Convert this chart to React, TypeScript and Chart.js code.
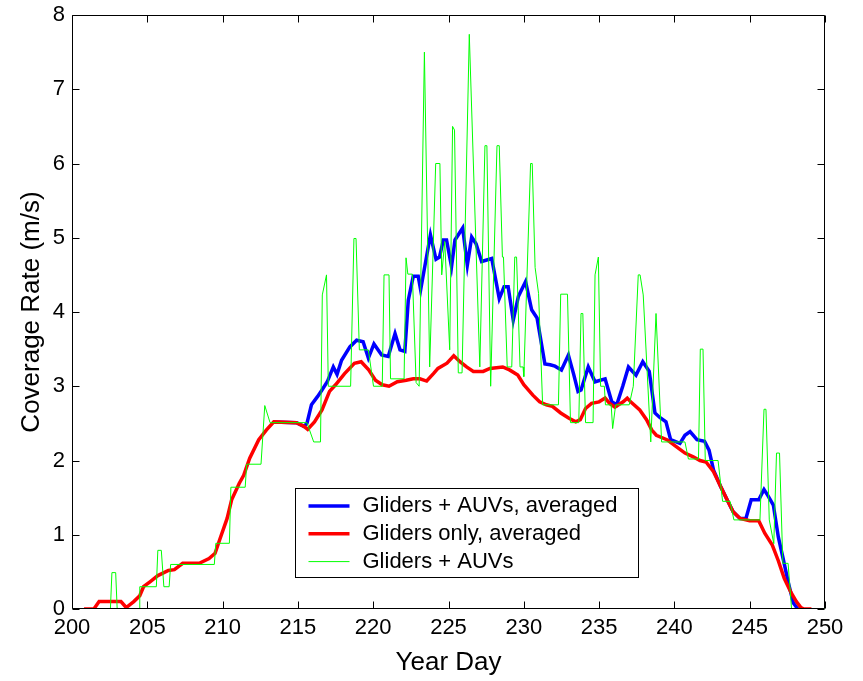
import React, { useEffect, useRef } from "react";
import { Chart, registerables } from "chart.js";

Chart.register(...registerables);

// ---------- data ----------
const seriesLabels = ["Gliders + AUVs, averaged", "Gliders only, averaged", "Gliders + AUVs"];

const xTickValues = [200, 205, 210, 215, 220, 225, 230, 235, 240, 245, 250];
const yTickValues = [0, 1, 2, 3, 4, 5, 6, 7, 8];

// Gliders + AUVs, averaged (blue)
const blueDays = [
  213.4, 214.9, 215.4, 215.6, 215.9, 216.3, 216.6, 216.95, 217.35, 217.6, 217.9, 218.45, 218.9, 219.33,
  219.68, 220.05, 220.56, 221.0, 221.45, 221.78, 222.1, 222.33, 222.66, 222.99, 223.15, 223.44, 223.8,
  224.17, 224.4, 224.66, 224.87, 225.2, 225.43, 225.94, 226.25, 226.54, 226.83, 227.2, 227.87, 228.37,
  228.69, 228.96, 229.3, 229.64, 230.12, 230.52, 230.88, 231.4, 231.75, 232.07, 232.5, 232.96, 233.3,
  233.6, 233.8, 234.28, 234.73, 235.4, 235.84, 236.17, 236.57, 236.95, 237.45, 237.9, 238.33, 238.71,
  239.03, 239.44, 239.75, 240.37, 240.7, 241.04, 241.5, 242.0, 242.3, 242.6, 243.07, 243.5, 243.9,
  244.36, 244.75, 245.1, 245.6, 245.95, 246.2, 246.57, 246.9, 247.24, 247.57, 247.9, 248.2,
];
const blueValues = [
  2.52, 2.51, 2.46, 2.5, 2.75, 2.86, 2.95, 3.06, 3.26, 3.16, 3.35, 3.53, 3.62, 3.6,
  3.38, 3.57, 3.42, 3.4, 3.71, 3.49, 3.47, 4.16, 4.48, 4.48, 4.3, 4.63, 5.04,
  4.71, 4.74, 4.97, 4.97, 4.61, 4.97, 5.13, 4.63, 5.01, 4.92, 4.68, 4.72, 4.18,
  4.34, 4.34, 3.89, 4.21, 4.41, 4.03, 3.92, 3.3, 3.29, 3.27, 3.22, 3.42, 3.17,
  2.93, 2.95, 3.26, 3.06, 3.1, 2.79, 2.75, 3.0, 3.26, 3.15, 3.33, 3.2, 2.64,
  2.58, 2.52, 2.28, 2.23, 2.34, 2.39, 2.28, 2.26, 2.14, 1.87, 1.65, 1.47, 1.31,
  1.22, 1.22, 1.47, 1.47, 1.61, 1.53, 1.4, 0.97, 0.66, 0.35, 0.08, 0,
];

// Gliders only, averaged (red)
const redDays = [
  200.8, 201.45, 201.8, 203.25, 203.6, 204.1, 204.5, 204.75, 205.2, 205.7, 206.4, 206.8, 207.35, 208.45,
  209.1, 209.5, 209.8, 210.3, 210.6, 211.1, 211.4, 211.8, 212.4, 212.9, 213.4, 214.9, 215.4, 215.65,
  216.1, 216.6, 217.1, 217.5, 218.1, 218.75, 219.2, 219.7, 220.15, 220.6, 221.05, 221.6, 222.2, 222.66,
  223.1, 223.55, 224.0, 224.3, 224.9, 225.35, 225.76, 226.2, 226.65, 227.3, 227.75, 228.6, 229.05,
  229.6, 230.0, 230.6, 231.05, 231.5, 231.9, 232.45, 233.0, 233.45, 233.75, 234.1, 234.5, 235.0, 235.4,
  235.7, 236.05, 236.6, 236.87, 237.15, 237.7, 238.15, 238.5, 238.8, 239.5, 240.1, 240.7, 241.25,
  241.7, 242.1, 242.6, 243.07, 243.5, 243.9, 244.36, 245.0, 245.6, 246.0, 246.5, 246.9, 247.3, 247.75,
  248.1, 248.4, 248.6, 249.1,
];
const redValues = [
  0, 0, 0.1, 0.1, 0.02, 0.1, 0.18, 0.3, 0.37, 0.45, 0.52, 0.53, 0.615, 0.615,
  0.68, 0.75, 0.93, 1.22, 1.47, 1.69, 1.8, 2.03, 2.28, 2.41, 2.52, 2.51, 2.46, 2.42,
  2.52, 2.68, 2.93, 3.02, 3.17, 3.31, 3.33, 3.22, 3.08, 3.02, 3.0, 3.06, 3.08, 3.1,
  3.1, 3.07, 3.17, 3.24, 3.31, 3.41, 3.33, 3.26, 3.2, 3.2, 3.24, 3.26, 3.22,
  3.15, 3.02, 2.88, 2.79, 2.75, 2.73, 2.64, 2.57, 2.52, 2.55, 2.7, 2.77, 2.79, 2.84,
  2.77, 2.72, 2.79, 2.84, 2.78, 2.68, 2.55, 2.41, 2.34, 2.28, 2.19, 2.1, 2.05,
  2.0, 1.98, 1.85, 1.65, 1.47, 1.31, 1.22, 1.19, 1.19, 1.02, 0.86, 0.65, 0.41, 0.22,
  0.1, 0.02, 0, 0,
];

// Gliders + AUVs (green)
const greenDays = [
  200.0, 202.55, 202.65, 202.9, 203.0, 204.45, 204.5, 205.6, 205.7, 205.93, 206.1, 206.45, 206.55,
  209.45, 209.55, 210.45, 210.55, 211.5, 211.6, 212.55, 212.8, 213.15, 215.6, 216.05, 216.5, 216.62,
  216.9, 217.02, 218.5, 218.72, 218.86, 219.08, 219.68, 220.02, 220.6, 220.72, 221.05, 221.15, 222.05,
  222.18, 222.3, 222.6, 222.85, 223.05, 223.4, 223.75, 224.15, 224.43, 224.55, 224.75, 225.08, 225.27,
  225.4, 225.65, 225.9, 226.38, 227.08, 227.42, 227.55, 227.8, 228.22, 228.37, 228.58, 228.65, 228.9,
  229.2, 229.4, 229.52, 229.75, 229.95, 230.0, 230.45, 230.56, 230.75, 230.98, 231.25, 232.3, 232.45,
  232.9, 233.1, 233.65, 233.8, 233.92, 234.1, 234.6, 234.73, 234.95, 235.1, 235.35, 235.42, 235.8,
  235.9, 236.1, 237.0, 237.27, 237.6, 237.72, 237.93, 238.43, 238.78, 239.15, 240.7, 240.93, 241.6,
  241.72, 241.9, 242.05, 242.9, 243.2, 243.7, 243.95, 245.68, 245.95, 246.08, 246.3, 246.6, 246.78,
  246.98, 247.2, 247.55, 247.78, 250.0,
];
const greenValues = [
  0, 0, 0.49, 0.49, 0, 0, 0.3, 0.3, 0.79, 0.79, 0.3, 0.3, 0.6,
  0.6, 0.885, 0.885, 1.64, 1.64, 1.95, 1.95, 2.74, 2.51, 2.51, 2.25, 2.25, 4.23,
  4.5, 3.0, 3.0, 4.99, 4.99, 3.49, 3.49, 3.0, 3.0, 4.5, 4.5, 3.1, 3.1,
  4.73, 4.51, 4.51, 3.05, 3.0, 7.5, 3.26, 6.0, 6.0, 4.5, 4.95, 3.49, 6.5,
  6.45, 3.18, 3.18, 7.74, 3.26, 6.24, 6.24, 3.0, 6.24, 6.24, 4.74, 4.74, 3.26,
  3.26, 4.74, 4.74, 3.26, 3.26, 3.13, 6.0, 6.0, 4.6, 4.25, 2.75, 2.75, 4.24,
  4.24, 2.51, 2.51, 3.98, 3.98, 2.51, 2.51, 4.5, 4.74, 3.0, 3.0, 2.75, 2.75,
  2.43, 2.75, 2.75, 3.0, 4.5, 4.5, 4.23, 2.25, 3.98, 2.25, 2.25, 2.02, 2.02,
  3.5, 3.5, 2.0, 2.0, 1.45, 1.45, 1.2, 1.2, 2.69, 2.69, 1.2, 0.88, 2.1,
  2.1, 0.615, 0.615, 0, 0,
];

const seriesColors = ["#0000ff", "#ff0000", "#00ff00"];
const FONT = "'Liberation Sans', Arial, Helvetica, sans-serif";

const toPoints = (xs: number[], ys: number[]) => xs.map((x, i) => ({ x, y: ys[i] }));

// MATLAB-style frame: box, inward ticks on all sides, boxed legend inside axes
const matlabFrame = {
  id: "matlabFrame",
  afterDatasetsDraw(chart: any) {
    const { ctx, chartArea: a, scales } = chart;
    const L = Math.round(a.left) + 0.5;
    const R = Math.round(a.right) - 0.5;
    const T = Math.round(a.top) + 0.5;
    const B = Math.round(a.bottom) - 0.5;
    ctx.save();
    ctx.strokeStyle = "#000";
    ctx.lineWidth = 1;
    ctx.beginPath();
    ctx.rect(L, T, R - L, B - T);
    ctx.stroke();
    const tl = 7;
    ctx.beginPath();
    scales.x.ticks.forEach((t: any) => {
      const px = Math.round(scales.x.getPixelForValue(t.value)) + 0.5;
      ctx.moveTo(px, B);
      ctx.lineTo(px, B - tl);
      ctx.moveTo(px, T);
      ctx.lineTo(px, T + tl);
    });
    scales.y.ticks.forEach((t: any) => {
      const py = Math.round(scales.y.getPixelForValue(t.value)) + 0.5;
      ctx.moveTo(L, py);
      ctx.lineTo(L + tl, py);
      ctx.moveTo(R, py);
      ctx.lineTo(R - tl, py);
    });
    ctx.stroke();

    // legend box
    const bx = Math.round(a.left + 223) + 0.5;
    const by = Math.round(a.top + 473) + 0.5;
    const bw = 343;
    const bh = 89;
    ctx.fillStyle = "#fff";
    ctx.fillRect(bx, by, bw, bh);
    ctx.strokeStyle = "#000";
    ctx.lineWidth = 1;
    ctx.strokeRect(bx, by, bw, bh);
    ctx.font = `22px ${FONT}`;
    ctx.textBaseline = "alphabetic";
    ctx.textAlign = "left";
    chart.data.datasets.forEach((ds: any, i: number) => {
      const ly = by + 17.5 + i * 27.8;
      ctx.strokeStyle = ds.borderColor;
      ctx.lineWidth = ds.borderWidth;
      ctx.beginPath();
      ctx.moveTo(bx + 13, ly);
      ctx.lineTo(bx + 54, ly);
      ctx.stroke();
      ctx.fillStyle = "#000";
      ctx.fillText(ds.label, bx + 67, ly + 6);
    });
    ctx.restore();
  },
};

export default function App() {
  const canvasRef = useRef<HTMLCanvasElement | null>(null);

  useEffect(() => {
    if (!canvasRef.current) return;
    const chart = new Chart(canvasRef.current, {
      type: "line",
      data: {
        datasets: [
          {
            label: seriesLabels[0],
            data: toPoints(blueDays, blueValues),
            borderColor: seriesColors[0],
            borderWidth: 3.5,
            pointRadius: 0,
            tension: 0,
            order: 3,
          },
          {
            label: seriesLabels[1],
            data: toPoints(redDays, redValues),
            borderColor: seriesColors[1],
            borderWidth: 3.5,
            pointRadius: 0,
            tension: 0,
            order: 2,
          },
          {
            label: seriesLabels[2],
            data: toPoints(greenDays, greenValues),
            borderColor: seriesColors[2],
            borderWidth: 1,
            pointRadius: 0,
            tension: 0,
            order: 1,
          },
        ],
      },
      options: {
        responsive: false,
        animation: false,
        devicePixelRatio: 1,
        layout: { padding: { left: 0, right: 38, top: 15, bottom: 0 } },
        plugins: {
          legend: { display: false },
          tooltip: { enabled: false },
        },
        scales: {
          x: {
            type: "linear",
            min: 200,
            max: 250,
            afterBuildTicks: (s: any) => {
              s.ticks = xTickValues.map((v) => ({ value: v }));
            },
            afterFit: (s: any) => {
              s.height = 72;
              s.paddingLeft = 0;
              s.paddingRight = 0;
            },
            grid: { display: false, drawTicks: false },
            border: { display: false },
            ticks: {
              color: "#000",
              padding: 6,
              maxRotation: 0,
              autoSkip: false,
              font: { family: FONT, size: 22 },
              callback: (v: any) => String(v),
            },
            title: {
              display: true,
              text: "Year Day",
              color: "#000",
              font: { family: FONT, size: 26 },
              padding: { top: 0, bottom: 3 },
            },
          },
          y: {
            type: "linear",
            min: 0,
            max: 8,
            afterBuildTicks: (s: any) => {
              s.ticks = yTickValues.map((v) => ({ value: v }));
            },
            afterFit: (s: any) => {
              s.width = 72;
              s.paddingTop = 0;
              s.paddingBottom = 0;
            },
            grid: { display: false, drawTicks: false },
            border: { display: false },
            ticks: {
              color: "#000",
              padding: 7,
              autoSkip: false,
              font: { family: FONT, size: 22 },
              callback: (v: any) => String(v),
            },
            title: {
              display: true,
              text: "Coverage Rate (m/s)",
              color: "#000",
              font: { family: FONT, size: 26 },
              padding: { top: 16, bottom: 0 },
            },
          },
        },
      },
      plugins: [matlabFrame],
    });
    return () => chart.destroy();
  }, []);

  return (
    <div style={{ position: "absolute", left: 0, top: 0, width: 863, height: 681, background: "#fff" }}>
      <canvas ref={canvasRef} width={863} height={681} style={{ display: "block", width: 863, height: 681 }} />
    </div>
  );
}
